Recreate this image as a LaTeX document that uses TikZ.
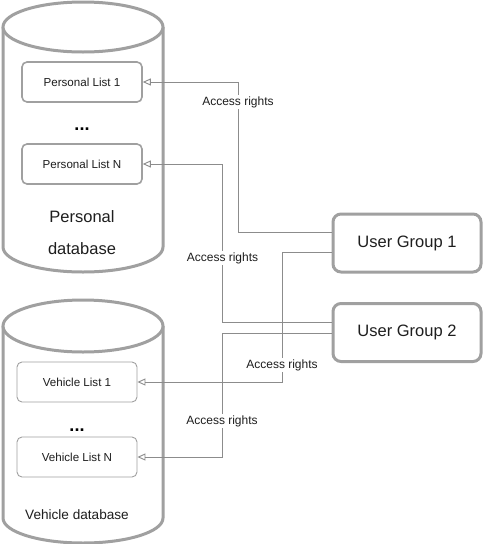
\documentclass[tikz,border=0pt]{standalone}
\usepackage{fontspec}
\setmainfont{Liberation Sans}
\usetikzlibrary{arrows.meta,calc}
\definecolor{cyl}{HTML}{A0A0A0}
\definecolor{lne}{HTML}{8C8C8C}
\definecolor{txt}{HTML}{1E1E1E}
\begin{document}
\begin{tikzpicture}[x=1pt,y=-1pt,
  cylline/.style={draw=cyl,line width=3pt,fill=white},
  plist/.style={draw=cyl,line width=1.6pt,rounded corners=5pt,minimum width=120pt,minimum height=40pt,font=\fontsize{11.6}{13}\selectfont,text=txt,inner sep=0pt},
  vlist/.style={draw=cyl,line width=0.9pt,rounded corners=5pt,minimum width=120pt,minimum height=40pt,font=\fontsize{11.6}{13}\selectfont,text=txt,inner sep=0pt},
  ugroup/.style={draw=cyl,line width=3pt,rounded corners=8pt,minimum width=148pt,minimum height=58pt,font=\fontsize{16.5}{19}\selectfont,text=txt,inner sep=0pt},
  conn/.style={draw=lne,line width=0.9pt,-{Triangle[open,length=8pt,width=7pt]}},
  lbl/.style={fill=white,inner sep=1pt,font=\fontsize{12}{14}\selectfont,text=txt},
  dots/.style={font=\fontsize{18}{20}\selectfont\bfseries,text=black,inner sep=0pt},
  dbtext/.style={text=txt,inner sep=0pt,align=center}]
\useasboundingbox (0,0) rectangle (484,544);
% Personal database cylinder
\path[cylline] (3,27) -- (3,247) arc[start angle=180,end angle=360,x radius=80,y radius=-25] -- (163,27);
\path[cylline] (83,27) ellipse[x radius=80,y radius=25];
% Vehicle database cylinder
\path[cylline] (3,326) -- (3,518) arc[start angle=180,end angle=360,x radius=80,y radius=-25] -- (163,326);
\path[cylline] (83,326) ellipse[x radius=80,y radius=26];
% lists
\node[plist] (pl1) at (82,82) {Personal List 1};
\node[plist] (pln) at (82,164) {Personal List N};
\node[dots] (d1) at (82,129) {...};
\node[dbtext,font=\fontsize{16.5}{32}\selectfont] (pdb) at (82,233) {Personal\\database};
\node[vlist] (vl1) at (77,382) {Vehicle List 1};
\node[vlist] (vln) at (77,457) {Vehicle List N};
\node[dots] (d2) at (77,430) {...};
\node[dbtext,font=\fontsize{13.6}{15}\selectfont] (vdb) at (77,515) {Vehicle database};
% user groups
\node[ugroup] (ug1) at (407,243) {User Group 1};
\node[ugroup] (ug2) at (407,332.5) {User Group 2};
% junction columns
\coordinate (c1) at (238,0);
\coordinate (c2) at (222.5,0);
\coordinate (c3) at (282,0);
\coordinate (c4) at (222,0);
% connectors
\draw[conn] ($(ug1.west)+(0,-11)$) -| (c1 |- pl1.east) -- (pl1.east);
\draw[conn] ($(ug2.west)+(0,-10.5)$) -| (c2 |- pln.east) -- (pln.east);
\draw[conn] ($(ug1.west)+(0,9)$) -| (c3 |- vl1.east) -- (vl1.east);
\draw[conn] ($(ug2.west)+(0,0.5)$) -| (c4 |- vln.east) -- (vln.east);
% labels
\node[lbl] (a1) at (238,102) {Access rights};
\node[lbl] (a2) at (222.5,258) {Access rights};
\node[lbl] (a3) at (282,365) {Access rights};
\node[lbl] (a4) at (222,421) {Access rights};
\end{tikzpicture}
\end{document}
